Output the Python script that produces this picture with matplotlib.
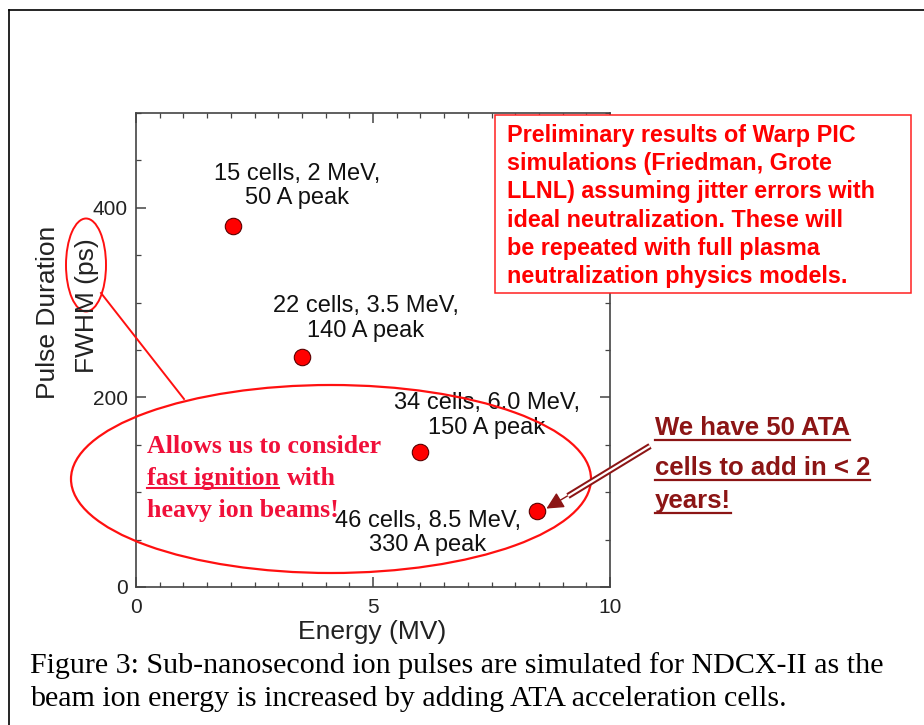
import matplotlib
matplotlib.use('Agg')
import matplotlib.pyplot as plt
from matplotlib.patches import Ellipse, Rectangle, FancyArrowPatch
from matplotlib.lines import Line2D
from matplotlib.ticker import MultipleLocator
from matplotlib import font_manager

# data
energy = [2.05, 3.5, 6.0, 8.45]      # MV
fwhm = [381, 243, 142, 80]          # ps
point_labels = ['15 cells, 2 MeV,\n50 A peak',
                '22 cells, 3.5 MeV,\n140 A peak',
                '34 cells, 6.0 MeV,\n150 A peak',
                '46 cells, 8.5 MeV,\n330 A peak']
label_x = [3.4, 4.85, 7.4, 6.15]
label_y = [423, 283, 181, 57]

box_lines = ['Preliminary results of Warp PIC',
             'simulations (Friedman, Grote',
             'LLNL) assuming jitter errors with',
             'ideal neutralization. These will',
             'be repeated with full plasma',
             'neutralization physics models.']
ata_lines = ['We have 50 ATA', 'cells to add in < 2', 'years!']
caption = ['Figure 3: Sub-nanosecond ion pulses are simulated for NDCX-II as the',
           'beam ion energy is increased by adding ATA acceleration cells.']

W, H = 924, 725
fig = plt.figure(figsize=(W / 100, H / 100), dpi=100)


def fx(x):
    return x / W


def fy(y):
    return 1 - y / H


sans = 'Liberation Sans'
serif = 'Liberation Serif'
try:
    font_manager.findfont('Liberation Sans Narrow', fallback_to_default=False)
    narrow, narrow_size = 'Liberation Sans Narrow', 21
except Exception:
    narrow, narrow_size = 'Liberation Sans', 18.5

# frame lines of the page
fig.add_artist(Line2D([fx(9), fx(924)], [fy(10), fy(10)], color='black', lw=1.2))
fig.add_artist(Line2D([fx(9), fx(9)], [fy(10), fy(725)], color='black', lw=1.2))

ax = fig.add_axes([fx(136), fy(587), 474 / W, 474 / H])
ax.scatter(energy, fwhm, s=140, color='#ff0000', edgecolor='#5a0000', linewidth=0.8, zorder=5)
ax.set_xlim(0, 10)
ax.set_ylim(0, 500)
ax.xaxis.set_major_locator(MultipleLocator(5))
ax.xaxis.set_minor_locator(MultipleLocator(0.5))
ax.yaxis.set_major_locator(MultipleLocator(200))
ax.yaxis.set_minor_locator(MultipleLocator(50))
ax.tick_params(which='both', direction='in', top=True, right=True, color='#444444')
ax.tick_params(which='major', length=7, width=1.1, labelsize=15, labelcolor='#222222')
ax.tick_params(axis='x', which='major', pad=8)
ax.tick_params(axis='y', which='major', pad=6)
ax.tick_params(which='minor', length=3.5, width=0.9)
for lab in ax.get_xticklabels() + ax.get_yticklabels():
    lab.set_family(sans)
for s in ax.spines.values():
    s.set_color('#444444')
    s.set_linewidth(1.2)

for lx, ly, txt in zip(label_x, label_y, point_labels):
    ax.text(lx, ly, txt, ha='center', va='center', multialignment='center',
            fontsize=17, family=sans, color='#111111', linespacing=1.15)

fig.text(fx(372), fy(632), 'Energy (MV)', ha='center', va='center', fontsize=19, family=sans, color='#222222')
fig.text(fx(48), fy(312), 'Pulse Duration', rotation=90, ha='center', va='center', fontsize=19, family=sans, color='#222222')
fig.text(fx(87), fy(306), 'FWHM (ps)', rotation=90, ha='center', va='center', fontsize=19, family=sans, color='#222222')

# red note box
fig.add_artist(Rectangle((fx(495), fy(293)), 416 / W, 178 / H, transform=fig.transFigure,
                         facecolor='white', edgecolor='#ff2020', lw=1.1, zorder=3))
for i, line in enumerate(box_lines):
    fig.text(fx(507), fy(142 + i * 28.2), line, ha='left', va='baseline', fontsize=16.8,
             family=sans, weight='bold', color='#ff0000', zorder=4)

# ellipses and connector
fig.add_artist(Ellipse((fx(331), fy(479)), 520 / W, 188 / H, transform=fig.transFigure,
                       fill=False, edgecolor='#ff1010', lw=1.6))
fig.add_artist(Ellipse((fx(86), fy(265)), 40 / W, 93 / H, transform=fig.transFigure,
                       fill=False, edgecolor='#ff1010', lw=1.4))
fig.add_artist(Line2D([fx(101), fx(184)], [fy(293), fy(399)], color='#ff1010', lw=1.4))

pink = '#f0103a'
dark = '#8c1515'
fig.canvas.draw()
r = fig.canvas.get_renderer()


def underline(t, color, lw, drop):
    bb = t.get_window_extent(renderer=r)
    x0, y0 = t.get_transform().transform(t.get_position())
    fig.add_artist(Line2D([bb.x0 / W, bb.x1 / W], [(y0 - drop) / H, (y0 - drop) / H],
                          color=color, lw=lw))


fig.text(fx(147), fy(453), 'Allows us to consider', fontsize=18.6, family=serif,
         weight='bold', color=pink, va='baseline')
t_fast = fig.text(fx(147), fy(485), 'fast ignition', fontsize=18.6, family=serif,
                  weight='bold', color=pink, va='baseline')
fig.canvas.draw()
bbf = t_fast.get_window_extent(renderer=r)
fig.text((bbf.x1 + 8) / W, fy(485), 'with', fontsize=18.6, family=serif,
         weight='bold', color=pink, va='baseline')
underline(t_fast, pink, 1.5, 3)
fig.text(fx(147), fy(517), 'heavy ion beams!', fontsize=18.6, family=serif,
         weight='bold', color=pink, va='baseline')

ata_base = [435, 475, 508]
for line, yb in zip(ata_lines, ata_base):
    t = fig.text(fx(655), fy(yb), line, fontsize=narrow_size, family=narrow,
                 weight='bold', color=dark, va='baseline')
    fig.canvas.draw()
    underline(t, dark, 1.6, 5)

# double-line arrow to the last point
fig.add_artist(Line2D([fx(650), fx(568)], [fy(446), fy(496)], color=dark, lw=4.5,
                      solid_capstyle='butt'))
fig.add_artist(Line2D([fx(650), fx(568)], [fy(446), fy(496)], color='white', lw=1.6,
                      solid_capstyle='butt'))
fig.add_artist(FancyArrowPatch((fx(574), fy(492)), (fx(544), fy(510)), transform=fig.transFigure,
                               arrowstyle='-|>', mutation_scale=26, color=dark, lw=1))

for i, line in enumerate(caption):
    fig.text(fx(30), fy(673 + i * 33), line, fontsize=21.6, family=serif,
             color='black', va='baseline')

fig.savefig('out.png', dpi=100)
